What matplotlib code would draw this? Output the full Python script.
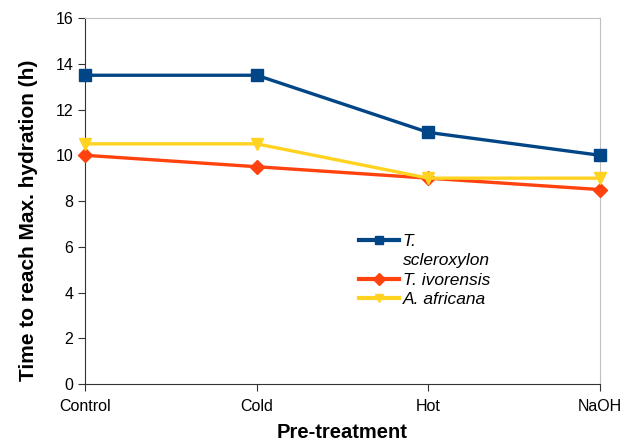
import matplotlib
matplotlib.use("Agg")
import matplotlib.pyplot as plt
from matplotlib.lines import Line2D

plt.rcParams['font.family'] = ['Liberation Sans', 'DejaVu Sans']

categories = ["Control", "Cold", "Hot", "NaOH"]
t_scleroxylon = [13.5, 13.5, 11, 10]
t_ivorensis = [10, 9.5, 9, 8.5]
a_africana = [10.5, 10.5, 9, 9]
labels = ["T. scleroxylon", "T. ivorensis", "A. africana"]
colors = ["#004586", "#ff420e", "#ffd320"]
markers = ["s", "D", "v"]
sizes = [9, 7, 9]

fig = plt.figure(figsize=(6.22, 4.41), dpi=100)
ax = fig.add_axes([0.1367, 0.1293, 0.828, 0.8297])

x = range(len(categories))
for ys, c, m, s, lab in zip([t_scleroxylon, t_ivorensis, a_africana], colors, markers, sizes, labels):
    ax.plot(x, ys, color=c, lw=2.4, marker=m, ms=s, label=lab, clip_on=False, zorder=3)

ax.set_xlim(0, 3)
ax.set_ylim(0, 16)
ax.set_yticks(range(0, 17, 2))
ax.set_xticks(list(x))
ax.set_xticklabels(categories)
ax.tick_params(labelsize=11.5, direction="out", length=5, color="#333333")
ax.tick_params(axis="x", pad=6)

for s in ["top", "right"]:
    ax.spines[s].set_color("#c0c0c0")
for s in ["left", "bottom"]:
    ax.spines[s].set_color("#333333")

ax.set_xlabel("Pre-treatment", fontsize=14.5, fontweight="bold", labelpad=6)
ax.set_ylabel("Time to reach Max. hydration (h)", fontsize=15, fontweight="bold")
ax.yaxis.set_label_coords(-0.091, 0.448)

# legend: first label wraps onto a second line, handle sits on the first line
handles = []
for c, m in zip(colors, markers):
    handles.append(Line2D([], [], color=c, lw=3, marker=m, ms=6))
blank = Line2D([], [], color="none")
leg = ax.legend([handles[0], blank, handles[1], handles[2]],
                ["T.", "scleroxylon", "T. ivorensis", "A. africana"],
                loc="upper left", bbox_to_anchor=(0.516, 0.435), frameon=False,
                prop={"size": 12.5, "style": "italic"}, handlelength=2.25,
                labelspacing=0.25, handletextpad=0.25, borderpad=0)

fig.savefig("out.png", dpi=100)
